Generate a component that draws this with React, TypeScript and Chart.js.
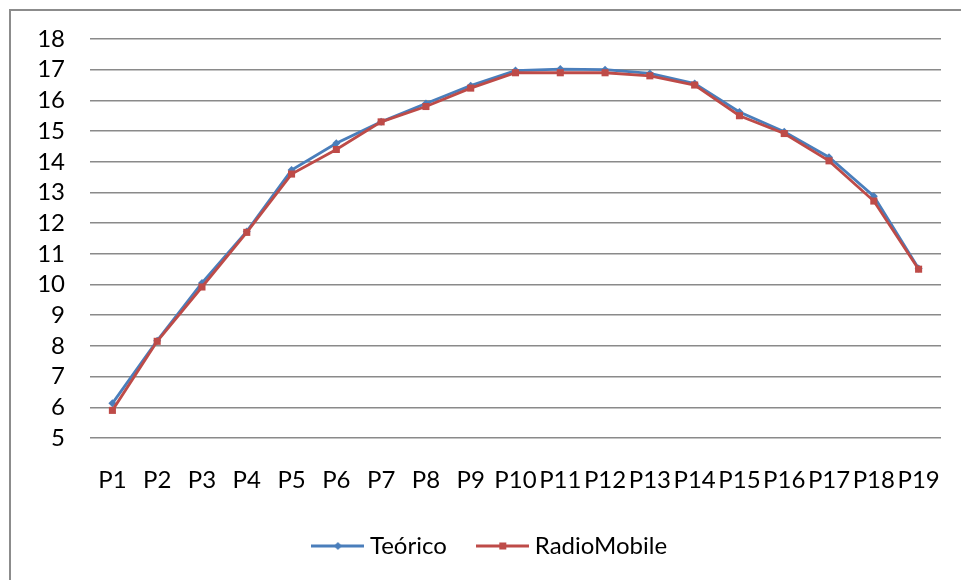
import React, { useEffect, useRef } from "react";
import { Chart, registerables } from "chart.js";

Chart.register(...registerables);

const categories = ["P1","P2","P3","P4","P5","P6","P7","P8","P9","P10","P11","P12","P13","P14","P15","P16","P17","P18","P19"];
const teorico = [6.13, 8.17, 10.05, 11.73, 13.73, 14.6, 15.3, 15.9, 16.48, 16.97, 17.02, 17.0, 16.88, 16.55, 15.62, 14.98, 14.15, 12.88, 10.52];
const radioMobile = [5.9, 8.15, 9.92, 11.7, 13.6, 14.4, 15.3, 15.8, 16.4, 16.9, 16.9, 16.9, 16.8, 16.5, 15.5, 14.92, 14.03, 12.72, 10.5];
const yMin = 5;
const yMax = 18;

const BLUE = "#4A7EBB";
const RED = "#BE4B48";
const FONT = "Lato, 'Open Sans', sans-serif";
const FS = 24;

function legendIcon(color: string, kind: "diamond" | "square") {
  const c = document.createElement("canvas");
  c.width = 53;
  c.height = 10;
  const ctx = c.getContext("2d")!;
  ctx.strokeStyle = color;
  ctx.lineWidth = 3;
  ctx.beginPath();
  ctx.moveTo(0, 5);
  ctx.lineTo(53, 5);
  ctx.stroke();
  ctx.fillStyle = color;
  if (kind === "diamond") {
    ctx.beginPath();
    ctx.moveTo(26.5, 1);
    ctx.lineTo(30.5, 5);
    ctx.lineTo(26.5, 9);
    ctx.lineTo(22.5, 5);
    ctx.closePath();
    ctx.fill();
  } else {
    ctx.fillRect(23, 1.5, 7, 7);
  }
  return c;
}

const legendShift = {
  id: "legendShift",
  afterLayout(chart: any) {
    if (chart.legend) {
      chart.legend.left += 22;
      chart.legend.right += 22;
    }
  },
};

export default function App() {
  const ref = useRef<HTMLCanvasElement>(null);
  useEffect(() => {
    if (!ref.current) return;
    const icons = [legendIcon(BLUE, "diamond"), legendIcon(RED, "square")];
    const chart = new Chart(ref.current, {
      type: "line",
      data: {
        labels: categories,
        datasets: [
          {
            label: "Teórico",
            data: teorico,
            borderColor: BLUE,
            backgroundColor: BLUE,
            borderWidth: 2.8,
            pointStyle: "rectRot",
            pointRadius: 4,
            pointBorderWidth: 0,
            tension: 0,
            order: 1,
          },
          {
            label: "RadioMobile",
            data: radioMobile,
            borderColor: RED,
            backgroundColor: RED,
            borderWidth: 2.8,
            pointStyle: "rect",
            pointRadius: 5,
            pointBorderWidth: 0,
            tension: 0,
            order: 0,
          },
        ],
      },
      plugins: [legendShift],
      options: {
        responsive: false,
        animation: false,
        layout: { padding: { left: 0, right: 20, top: 39, bottom: 12 } },
        plugins: {
          tooltip: { enabled: false },
          legend: {
            position: "bottom",
            labels: {
              font: { family: FONT, size: FS },
              color: "#000",
              usePointStyle: true,
              pointStyleWidth: 40,
              padding: 36,
              generateLabels: (ch: any) =>
                ch.data.datasets.map((d: any, i: number) => ({
                  text: d.label,
                  pointStyle: icons[i],
                  fillStyle: d.borderColor,
                  strokeStyle: d.borderColor,
                  lineWidth: 0,
                  hidden: false,
                  datasetIndex: i,
                  fontColor: "#000",
                })),
            },
          },
        },
        scales: {
          x: {
            offset: true,
            grid: { display: false, drawTicks: false },
            border: { display: false },
            ticks: { font: { family: FONT, size: FS }, color: "#000", padding: 28, maxRotation: 0, autoSkip: false },
            afterFit: (s: any) => { s.height = 60; s.paddingLeft = 0; s.paddingRight = 0; },
          },
          y: {
            min: yMin,
            max: yMax,
            grid: { color: "#8a8a8a", lineWidth: 1.5, drawTicks: false },
            border: { display: false },
            ticks: { stepSize: 1, autoSkip: false, font: { family: FONT, size: FS }, color: "#000", padding: 25 },
            afterFit: (s: any) => { s.width = 90; s.paddingTop = 0; s.paddingBottom = 0; },
          },
        },
      },
    });
    return () => chart.destroy();
  }, []);
  return (
    <div style={{ position: "fixed", left: 0, top: 0, width: 961, height: 580, overflow: "hidden", background: "#fff" }}>
      <div style={{ position: "absolute", left: 9, top: 9, width: 1100, height: 700, border: "2px solid #8c8c8c" }} />
      <canvas ref={ref} width={961} height={580} style={{ position: "absolute", left: 0, top: 0, width: 961, height: 580 }} />
    </div>
  );
}
